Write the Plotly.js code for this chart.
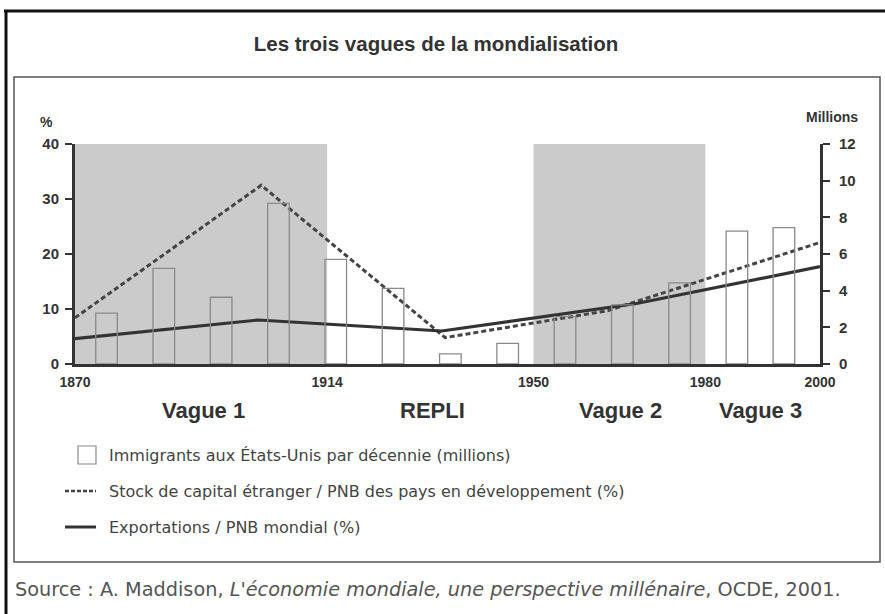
<!DOCTYPE html>
<html>
<head>
<meta charset="utf-8">
<script src="https://cdn.plot.ly/plotly-3.0.1.min.js"></script>
<style>html,body{margin:0;padding:0;background:#fff;}#chart{width:885px;height:614px;}</style>
</head>
<body>
<div id="chart"></div>
<script>
// Immigrants to the US per decade (millions), bar centres in years
const immigYears = [1875.5, 1885.5, 1895.5, 1905.5, 1915.5, 1925.5, 1935.5, 1945.5, 1955.5, 1965.5, 1975.5, 1985.5, 1993.7];
const immigMillions = [2.77, 5.22, 3.64, 8.76, 5.71, 4.13, 0.55, 1.13, 2.58, 3.22, 4.43, 7.25, 7.44];
// Foreign capital stock / GDP of developing countries (%)
const capitalYears = [1870, 1902.5, 1934.6, 1963, 2000];
const capitalPct = [8.4, 32.5, 4.8, 9.7, 22.1];
// World exports / GDP (%)
const exportYears = [1870, 1902, 1934, 1968, 2000];
const exportPct = [4.6, 8.0, 6.0, 11.0, 17.7];
// Axis ticks
const xTicks = [1870, 1914, 1950, 1980, 2000];
const waveLabels = ['Vague 1', 'REPLI', 'Vague 2', 'Vague 3'];
const waveCentres = [1892.5, 1932.3, 1965.1, 1989.7];
const shadedStart = [1870, 1950];
const shadedEnd = [1914, 1980];
const legendNames = [
  'Immigrants aux États-Unis par décennie (millions)',
  'Stock de capital étranger / PNB des pays en développement (%)',
  'Exportations / PNB mondial (%)'
];

const FONT = 'Liberation Sans, Arial, sans-serif';
const WIDE = 'DejaVu Sans, Verdana, sans-serif';
const DARK = '#333333';

const traces = [
  {
    type: 'bar', x: immigYears, y: immigMillions, yaxis: 'y2', width: 3.77,
    name: legendNames[0],
    marker: {color: 'rgba(0,0,0,0)', line: {color: '#8a8a8a', width: 1.3}},
    hoverinfo: 'skip'
  },
  {
    type: 'scatter', mode: 'lines', x: capitalYears, y: capitalPct,
    name: legendNames[1],
    line: {color: '#444', width: 3, dash: '5px,3px'}
  },
  {
    type: 'scatter', mode: 'lines', x: exportYears, y: exportPct,
    name: legendNames[2],
    line: {color: '#333', width: 3.2}
  }
];

// plot area: x px 75..820, y px 144..364
const px = v => (v - 75) / 745;
const py = v => (364 - v) / 220;

const shapes = shadedStart.map((s, i) => ({
  type: 'rect', xref: 'x', yref: 'y', x0: s, x1: shadedEnd[i], y0: 0, y1: 40,
  fillcolor: '#cbcbcb', line: {width: 0}, layer: 'below'
}));
// page border (top and left) and chart box
shapes.push({type: 'line', xref: 'paper', yref: 'paper', x0: px(4), x1: px(885), y0: py(11), y1: py(11),
  line: {color: '#111', width: 3}, layer: 'below'});
shapes.push({type: 'line', xref: 'paper', yref: 'paper', x0: px(6), x1: px(6), y0: py(10), y1: py(614),
  line: {color: '#111', width: 3}, layer: 'below'});
shapes.push({type: 'rect', xref: 'paper', yref: 'paper', x0: px(14), x1: px(880), y0: py(562), y1: py(77),
  line: {color: '#555', width: 1.5}, fillcolor: 'rgba(0,0,0,0)', layer: 'below'});
// legend samples
shapes.push({type: 'rect', xref: 'paper', yref: 'paper', x0: px(78), x1: px(96), y0: py(464), y1: py(446),
  line: {color: '#8a8a8a', width: 1.2}, fillcolor: 'rgba(0,0,0,0)'});
shapes.push({type: 'line', xref: 'paper', yref: 'paper', x0: px(65), x1: px(96), y0: py(491), y1: py(491),
  line: {color: '#444', width: 2.5, dash: '4px,2px'}});
shapes.push({type: 'line', xref: 'paper', yref: 'paper', x0: px(65), x1: px(96), y0: py(527), y1: py(527),
  line: {color: '#333', width: 3}});

const annotations = waveLabels.map((w, i) => ({
  text: w, xref: 'x', yref: 'paper', x: waveCentres[i], y: py(410), xanchor: 'center', yanchor: 'middle', showarrow: false,
  font: {family: FONT, size: 22, color: DARK, weight: 'bold'}
}));
const legendY = [455, 491, 527];
legendNames.forEach((n, i) => annotations.push({
  text: n, xref: 'paper', yref: 'paper', x: px(107), y: py(legendY[i]), xanchor: 'left', yanchor: 'middle', showarrow: false,
  font: {family: WIDE, size: 16, color: '#444'}
}));
annotations.push({text: '%', xref: 'paper', yref: 'paper', x: px(46), y: py(122), xanchor: 'center', yanchor: 'middle', showarrow: false,
  font: {family: FONT, size: 14, color: DARK, weight: 'bold'}});
annotations.push({text: 'Millions', xref: 'paper', yref: 'paper', x: px(860), y: py(117), xanchor: 'right', yanchor: 'middle', showarrow: false,
  font: {family: FONT, size: 14, color: DARK, weight: 'bold'}});
annotations.push({text: "Source : A. Maddison, <i>L'économie mondiale, une perspective millénaire</i>, OCDE, 2001.",
  xref: 'paper', yref: 'paper', x: px(13), y: py(589), xanchor: 'left', yanchor: 'middle', showarrow: false,
  font: {family: WIDE, size: 19.3, color: '#555'}});

const layout = {
  width: 885, height: 614,
  margin: {l: 75, r: 65, t: 144, b: 250, autoexpand: false},
  paper_bgcolor: '#fff', plot_bgcolor: 'rgba(0,0,0,0)',
  title: {text: 'Les trois vagues de la mondialisation', x: 436 / 885, xref: 'container', y: 1 - 44 / 614, yref: 'container',
    xanchor: 'center', yanchor: 'middle', font: {family: FONT, size: 20.5, color: DARK, weight: 'bold'}},
  xaxis: {range: [1870, 2000], tickvals: xTicks, ticktext: xTicks.map(String), showgrid: false, zeroline: false,
    showline: true, linecolor: DARK, linewidth: 3, ticks: '', automargin: false, ticklabelstandoff: 3,
    tickfont: {family: FONT, size: 14, color: DARK, weight: 'bold'}},
  yaxis: {range: [0, 40], dtick: 10, showgrid: false, zeroline: false, showline: true, linecolor: DARK, linewidth: 3,
    ticks: 'outside', ticklen: 7, tickwidth: 2, tickcolor: DARK, automargin: false, ticklabelstandoff: 3,
    tickfont: {family: FONT, size: 15, color: DARK, weight: 'bold'}},
  yaxis2: {range: [0, 12], dtick: 2, overlaying: 'y', side: 'right', showgrid: false, zeroline: false, showline: true,
    linecolor: DARK, linewidth: 3, ticks: 'outside', ticklen: 7, tickwidth: 2, tickcolor: DARK, automargin: false,
    ticklabelstandoff: 6,
    tickfont: {family: FONT, size: 15, color: DARK, weight: 'bold'}},
  showlegend: false,
  shapes: shapes,
  annotations: annotations,
  bargap: 0
};

Plotly.newPlot('chart', traces, layout, {displayModeBar: false, staticPlot: true});
</script>
</body>
</html>
